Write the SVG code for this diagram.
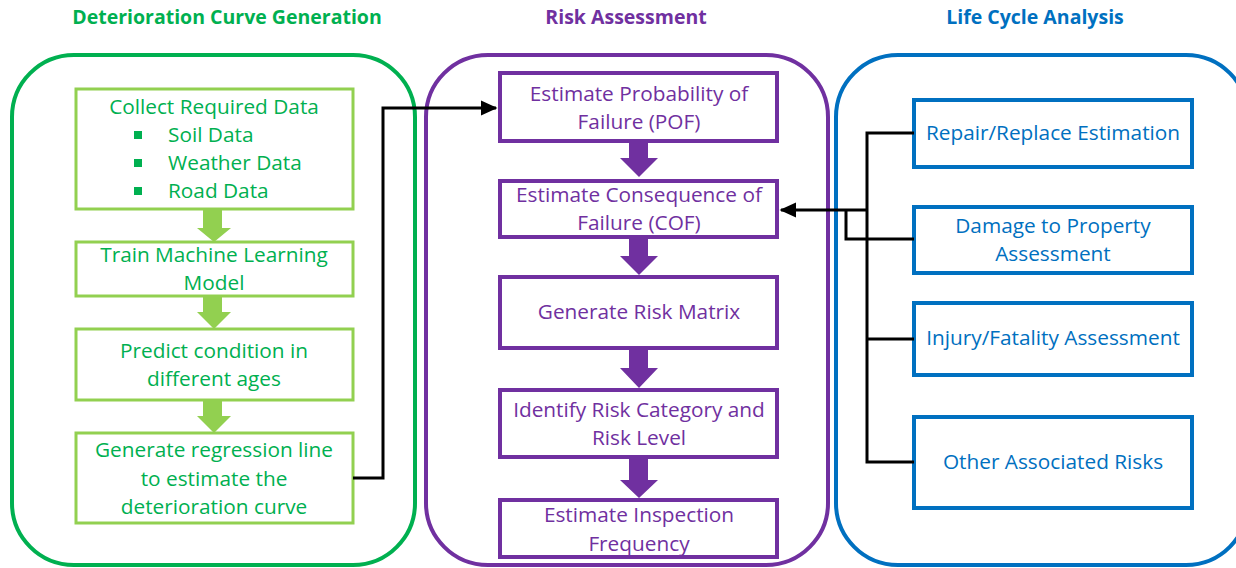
<svg xmlns="http://www.w3.org/2000/svg" width="1236" height="568" viewBox="0 0 1236 568">
<style>
.t{font-family:"Open Sans","Liberation Sans",sans-serif;font-size:20.8px;text-anchor:middle}
.h{font-family:"Open Sans","Liberation Sans",sans-serif;font-size:19.5px;font-weight:bold;text-anchor:middle}
.g{fill:#00B050}.p{fill:#7030A0}.b{fill:#0070C0}
.gb{fill:#fff;stroke:#92D050;stroke-width:3}
.pb{fill:#fff;stroke:#7030A0;stroke-width:4}
.bb{fill:#fff;stroke:#0070C0;stroke-width:4}
.conn{fill:none;stroke:#000;stroke-width:3}
</style>
<defs>
<marker id="ah" markerWidth="6" markerHeight="6" refX="5" refY="3" orient="auto" markerUnits="strokeWidth"><path d="M0,0.5 L5.5,3 L0,5.5 z" fill="#000"/></marker>
</defs>
<g id="titles">
<text class="h g" x="227" y="24">Deterioration Curve Generation</text>
<text class="h p" x="626" y="24">Risk Assessment</text>
<text class="h b" x="1035" y="24">Life Cycle Analysis</text>
</g>
<g id="containers">
<rect x="12" y="55" width="403" height="510" rx="62" fill="none" stroke="#00B050" stroke-width="4"/>
<rect x="426" y="55" width="402" height="510" rx="62" fill="none" stroke="#7030A0" stroke-width="4"/>
<rect x="836" y="55" width="412" height="510" rx="62" fill="none" stroke="#0070C0" stroke-width="4"/>
</g>
<g id="green-arrows" fill="#92D050">
<path d="M203,209 H222 V228 H231 L214,242 L197,228 H203 Z"/>
<path d="M203,296 H222 V312 H231 L214,329 L197,312 H203 Z"/>
<path d="M203,400 H222 V416 H231 L214,433 L197,416 H203 Z"/>
</g>
<g id="purple-arrows" fill="#7030A0">
<path d="M629,141 H648 V158 H658 L639,177 L620,158 H629 Z"/>
<path d="M629,237 H648 V256 H658 L639,275 L620,256 H629 Z"/>
<path d="M629,348 H648 V368 H658 L639,388 L620,368 H629 Z"/>
<path d="M629,457 H648 V480 H658 L639,498 L620,480 H629 Z"/>
</g>
<g id="n-collect">
<rect class="gb" x="76" y="89" width="277" height="120"/>
<text class="t g" x="214" y="114">Collect Required Data</text>
<rect x="134" y="131" width="8" height="8" fill="#00B050"/>
<rect x="134" y="159" width="8" height="8" fill="#00B050"/>
<rect x="134" y="187" width="8" height="8" fill="#00B050"/>
<text class="t g" x="168" y="142" style="text-anchor:start">Soil Data</text>
<text class="t g" x="168" y="170" style="text-anchor:start">Weather Data</text>
<text class="t g" x="168" y="198" style="text-anchor:start">Road Data</text>
</g>
<g id="n-train">
<rect class="gb" x="76" y="242" width="277" height="54"/>
<text class="t g" x="214" y="262">Train Machine Learning</text>
<text class="t g" x="214" y="290">Model</text>
</g>
<g id="n-predict">
<rect class="gb" x="76" y="329" width="277" height="71"/>
<text class="t g" x="214" y="358">Predict condition in</text>
<text class="t g" x="214" y="386">different ages</text>
</g>
<g id="n-regression">
<rect class="gb" x="76" y="433" width="277" height="90"/>
<text class="t g" x="214" y="457">Generate regression line</text>
<text class="t g" x="214" y="486">to estimate the</text>
<text class="t g" x="214" y="514">deterioration curve</text>
</g>
<g id="n-pof">
<rect class="pb" x="500" y="73" width="277" height="68"/>
<text class="t p" x="639" y="101">Estimate Probability of</text>
<text class="t p" x="639" y="129">Failure (POF)</text>
</g>
<g id="n-cof">
<rect class="pb" x="500" y="181" width="277" height="56"/>
<text class="t p" x="639" y="202">Estimate Consequence of</text>
<text class="t p" x="639" y="230">Failure (COF)</text>
</g>
<g id="n-matrix">
<rect class="pb" x="500" y="277" width="277" height="71"/>
<text class="t p" x="639" y="319">Generate Risk Matrix</text>
</g>
<g id="n-category">
<rect class="pb" x="500" y="390" width="277" height="67"/>
<text class="t p" x="639" y="417">Identify Risk Category and</text>
<text class="t p" x="639" y="445">Risk Level</text>
</g>
<g id="n-inspection">
<rect class="pb" x="500" y="500" width="277" height="57"/>
<text class="t p" x="639" y="522">Estimate Inspection</text>
<text class="t p" x="639" y="551">Frequency</text>
</g>
<g id="n-repair">
<rect class="bb" x="914" y="100" width="278" height="67"/>
<text class="t b" x="1053" y="140">Repair/Replace Estimation</text>
</g>
<g id="n-damage">
<rect class="bb" x="914" y="207" width="278" height="66"/>
<text class="t b" x="1053" y="233">Damage to Property</text>
<text class="t b" x="1053" y="261">Assessment</text>
</g>
<g id="n-injury">
<rect class="bb" x="914" y="303" width="278" height="72"/>
<text class="t b" x="1053" y="345">Injury/Fatality Assessment</text>
</g>
<g id="n-other">
<rect class="bb" x="914" y="417" width="278" height="91"/>
<text class="t b" x="1053" y="469">Other Associated Risks</text>
</g>
<g id="connectors">
<path class="conn" d="M353,478 H383 V108 H496" marker-end="url(#ah)"/>
<path class="conn" d="M914,133 H867 V462 H914"/>
<path class="conn" d="M867,339 H914"/>
<path class="conn" d="M914,239 H846 V210"/>
<path class="conn" d="M867,210 H781" marker-end="url(#ah)"/>
</g>
</svg>
